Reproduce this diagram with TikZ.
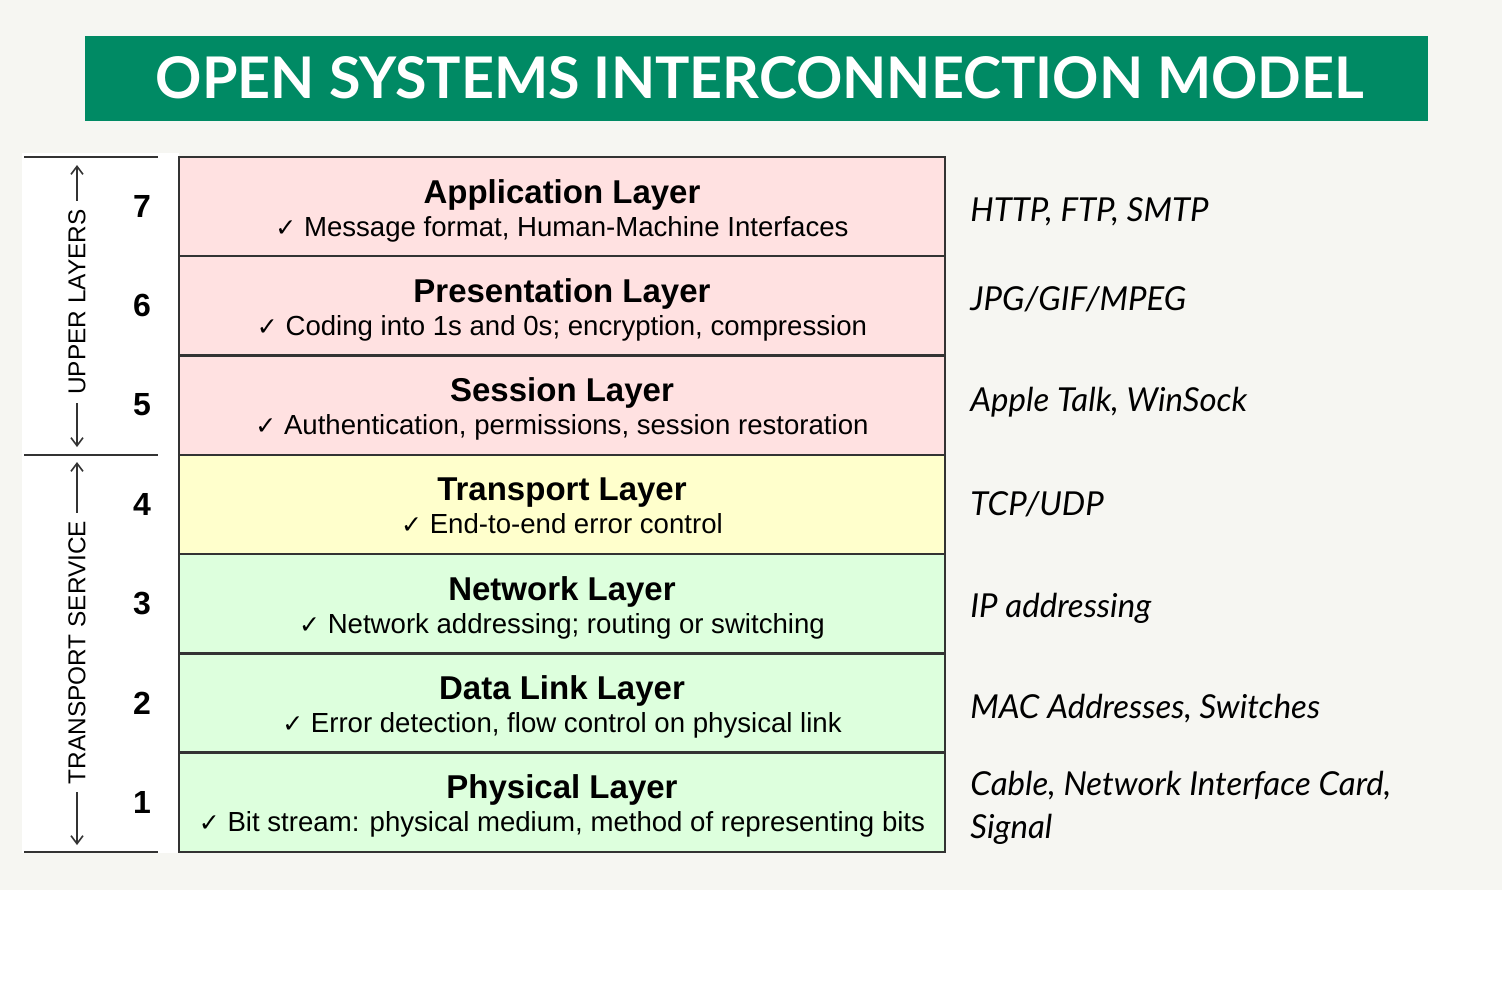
\documentclass[tikz,border=0pt]{standalone}
\usepackage{fontspec}
\setmainfont{Liberation Sans}
\newfontfamily\lato{Lato}
\newfontfamily\chk{DejaVu Sans}
\usetikzlibrary{arrows.meta}
\definecolor{bgoff}{HTML}{F6F6F2}
\definecolor{banner}{HTML}{008A64}
\definecolor{pinkl}{HTML}{FFE1E1}
\definecolor{yellowl}{HTML}{FFFFCC}
\definecolor{greenl}{HTML}{DDFFDD}
\definecolor{edge}{HTML}{333333}
\newcommand{\ck}{{\chk\fontsize{12.5}{14}\selectfont\char"2713}\ }
\tikzset{
  layerbox/.style={draw=edge, line width=1.2pt, minimum width=383pt, minimum height=49.7pt, inner sep=0pt},
  ltitle/.style={anchor=base, font=\fontsize{16.5}{18}\selectfont\bfseries, inner sep=0pt},
  lsub/.style={anchor=base, font=\fontsize{13.8}{15}\selectfont, inner sep=0pt},
  lnum/.style={font=\fontsize{16}{18}\selectfont\bfseries, inner sep=0pt},
  proto/.style={anchor=base west, font=\lato\itshape\fontsize{16.5}{18}\selectfont, inner sep=0pt},
  grouplbl/.style={rotate=90, fill=white, font=\fontsize{12.2}{14}\selectfont, inner xsep=4pt, inner ysep=2pt},
  sepline/.style={draw=edge, line width=1.2pt},
  grparrow/.style={draw=edge, line width=0.8pt, {Straight Barb[length=4pt,width=6pt]}-{Straight Barb[length=4pt,width=6pt]}}
}
\begin{document}
\begin{tikzpicture}[x=0.5pt,y=-0.5pt]
\useasboundingbox (0,0) rectangle (1502,998);
\fill[white] (0,0) rectangle (1502,998);
\fill[bgoff] (0,0) rectangle (1502,890);
\fill[white] (22,153) rectangle (179,853);
% banner
\node[fill=banner, minimum width=671.5pt, minimum height=42.5pt, inner sep=0pt] (banner) at (756.5,78.5) {};
\node[text=white, font=\lato\bfseries\fontsize{28.7}{30}\selectfont, inner sep=0pt] (title) at (760,78) {OPEN SYSTEMS INTERCONNECTION MODEL};
% layers
\node[layerbox, fill=pinkl] (L7) at (562,206.5) {};
\node[layerbox, fill=pinkl] (L6) at (562,305.8) {};
\node[layerbox, fill=pinkl] (L5) at (562,405.1) {};
\node[layerbox, fill=yellowl] (L4) at (562,504.4) {};
\node[layerbox, fill=greenl] (L3) at (562,603.7) {};
\node[layerbox, fill=greenl] (L2) at (562,703) {};
\node[layerbox, fill=greenl] (L1) at (562,802.3) {};
% texts
\node[ltitle] (t7) at (562,203) {Application Layer};
\node[lsub] (s7) at (562,236) {\ck Message format, Human-Machine Interfaces};
\node[ltitle] (t6) at (562,302) {Presentation Layer};
\node[lsub] (s6) at (562,335) {\ck Coding into 1s and 0s; encryption, compression};
\node[ltitle] (t5) at (562,401) {Session Layer};
\node[lsub] (s5) at (562,434) {\ck Authentication, permissions, session restoration};
\node[ltitle] (t4) at (562,500) {Transport Layer};
\node[lsub] (s4) at (562,533) {\ck End-to-end error control};
\node[ltitle] (t3) at (562,600) {Network Layer};
\node[lsub] (s3) at (562,633) {\ck Network addressing; routing or switching};
\node[ltitle] (t2) at (562,699) {Data Link Layer};
\node[lsub] (s2) at (562,732) {\ck Error detection, flow control on physical link};
\node[ltitle] (t1) at (562,798) {Physical Layer};
\node[lsub] (s1) at (562,831) {\ck Bit stream: physical medium, method of representing bits};
% numbers
\node[lnum] (n7) at (142,206.5) {7};
\node[lnum] (n6) at (142,305.8) {6};
\node[lnum] (n5) at (142,405.1) {5};
\node[lnum] (n4) at (142,504.4) {4};
\node[lnum] (n3) at (142,603.7) {3};
\node[lnum] (n2) at (142,703) {2};
\node[lnum] (n1) at (142,802.3) {1};
% separators
\coordinate (a1) at (24,157); \coordinate (a2) at (158,157);
\coordinate (b1) at (24,455); \coordinate (b2) at (158,455);
\coordinate (c1) at (24,852); \coordinate (c2) at (158,852);
\draw[sepline] (a1) -- (a2);
\draw[sepline] (b1) -- (b2);
\draw[sepline] (c1) -- (c2);
% group arrows
\coordinate (u1) at (77,165); \coordinate (u2) at (77,447);
\coordinate (v1) at (77,462); \coordinate (v2) at (77,845);
\draw[grparrow] (u1) -- (u2);
\draw[grparrow] (v1) -- (v2);
\node[grouplbl] (upper) at (77,302) {UPPER LAYERS};
\node[grouplbl] (trans) at (77,652.5) {TRANSPORT SERVICE};
% protocols
\node[proto] (p7) at (970,221) {HTTP, FTP, SMTP};
\node[proto] (p6) at (970,310) {JPG/GIF/MPEG};
\node[proto] (p5) at (970,411) {Apple Talk, WinSock};
\node[proto] (p4) at (970,515) {TCP/UDP};
\node[proto] (p3) at (970,617) {IP addressing};
\node[proto] (p2) at (970,718) {MAC Addresses, Switches};
\node[proto] (p1) at (970,795) {Cable, Network Interface Card,};
\node[proto] (p1b) at (970,838) {Signal};
\end{tikzpicture}
\end{document}
